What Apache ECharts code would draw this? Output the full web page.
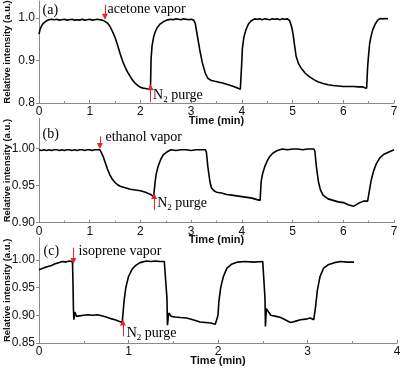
<!DOCTYPE html>
<html><head><meta charset="utf-8">
<script src="https://cdn.jsdelivr.net/npm/echarts@6/dist/echarts.min.js"></script>
<style>html,body{margin:0;padding:0;background:#fff}#c{width:400px;height:370px}</style>
</head><body><div id="c"></div>
<script>
// ---- data ----
const seriesA = [[0,0.962],[0.02,0.973],[0.05,0.981],[0.08,0.987],[0.12,0.991],[0.16,0.994],[0.2,0.996],[0.25,0.997],[0.3,0.996],[0.35,0.997],[0.4,0.995],[0.45,0.996],[0.5,0.997],[0.55,0.995],[0.6,0.996],[0.65,0.997],[0.7,0.995],[0.75,0.996],[0.8,0.995],[0.85,0.997],[0.9,0.995],[0.95,0.996],[1.0,0.997],[1.05,0.995],[1.1,0.996],[1.15,0.997],[1.2,0.996],[1.25,0.995],[1.3,0.992],[1.35,0.988],[1.4,0.980],[1.45,0.968],[1.5,0.954],[1.55,0.936],[1.6,0.916],[1.65,0.898],[1.7,0.884],[1.75,0.872],[1.8,0.862],[1.85,0.853],[1.9,0.846],[1.95,0.841],[2.0,0.837],[2.05,0.835],[2.1,0.834],[2.15,0.833],[2.19,0.832],[2.2,0.845],[2.21,0.905],[2.23,0.935],[2.26,0.955],[2.29,0.967],[2.33,0.977],[2.38,0.985],[2.45,0.991],[2.52,0.995],[2.6,0.997],[2.65,0.996],[2.7,0.998],[2.75,0.997],[2.8,0.996],[2.85,0.998],[2.9,0.997],[2.95,0.996],[3.0,0.997],[3.05,0.995],[3.08,0.988],[3.12,0.960],[3.17,0.925],[3.22,0.895],[3.28,0.870],[3.33,0.858],[3.4,0.853],[3.47,0.851],[3.55,0.849],[3.62,0.847],[3.7,0.844],[3.78,0.841],[3.85,0.838],[3.92,0.835],[3.97,0.832],[3.99,0.830],[4.0,0.900],[4.01,0.928],[4.04,0.955],[4.08,0.972],[4.13,0.986],[4.18,0.993],[4.25,0.998],[4.3,0.997],[4.35,0.998],[4.4,0.996],[4.45,0.998],[4.5,0.997],[4.55,0.996],[4.6,0.998],[4.65,0.997],[4.7,0.998],[4.75,0.996],[4.8,0.998],[4.85,0.997],[4.9,0.998],[4.94,0.994],[4.98,0.980],[5.01,0.962],[5.04,0.935],[5.07,0.910],[5.12,0.892],[5.17,0.882],[5.25,0.870],[5.33,0.862],[5.42,0.855],[5.5,0.850],[5.6,0.846],[5.7,0.843],[5.8,0.841],[5.9,0.840],[6.0,0.839],[6.1,0.839],[6.2,0.839],[6.3,0.838],[6.38,0.838],[6.42,0.836],[6.45,0.832],[6.46,0.835],[6.48,0.885],[6.5,0.915],[6.52,0.940],[6.55,0.958],[6.58,0.972],[6.63,0.986],[6.68,0.995],[6.73,0.999],[6.78,0.998],[6.83,0.999],[6.88,0.998]];

const seriesB = [[0,0.998],[0.05,0.997],[0.1,0.998],[0.15,0.997],[0.2,0.998],[0.25,0.997],[0.3,0.998],[0.35,0.998],[0.4,0.997],[0.45,0.998],[0.5,0.997],[0.55,0.998],[0.6,0.998],[0.65,0.997],[0.7,0.998],[0.75,0.997],[0.8,0.998],[0.85,0.998],[0.9,0.997],[0.95,0.998],[1.0,0.998],[1.05,0.997],[1.1,0.998],[1.15,0.998],[1.2,0.998],[1.23,0.994],[1.27,0.988],[1.31,0.980],[1.35,0.972],[1.4,0.964],[1.45,0.958],[1.5,0.954],[1.55,0.951],[1.6,0.949],[1.7,0.947],[1.8,0.945],[1.9,0.944],[2.0,0.943],[2.1,0.941],[2.2,0.938],[2.26,0.935],[2.28,0.933],[2.29,0.955],[2.31,0.965],[2.35,0.976],[2.4,0.985],[2.45,0.991],[2.52,0.995],[2.6,0.998],[2.7,0.997],[2.8,0.998],[2.9,0.998],[3.0,0.997],[3.1,0.998],[3.2,0.998],[3.28,0.998],[3.3,0.995],[3.33,0.975],[3.37,0.955],[3.4,0.947],[3.45,0.943],[3.5,0.941],[3.6,0.940],[3.7,0.938],[3.8,0.937],[3.9,0.936],[4.0,0.935],[4.1,0.934],[4.2,0.933],[4.3,0.931],[4.36,0.930],[4.38,0.955],[4.41,0.966],[4.45,0.975],[4.5,0.983],[4.55,0.989],[4.62,0.994],[4.7,0.997],[4.8,0.999],[4.9,0.998],[5.0,0.999],[5.1,0.999],[5.2,0.998],[5.3,0.999],[5.42,0.999],[5.44,0.996],[5.47,0.975],[5.51,0.955],[5.55,0.944],[5.6,0.937],[5.7,0.932],[5.8,0.930],[5.9,0.928],[6.0,0.927],[6.1,0.924],[6.2,0.922],[6.3,0.926],[6.4,0.929],[6.48,0.929],[6.51,0.930],[6.52,0.945],[6.55,0.957],[6.6,0.970],[6.65,0.979],[6.72,0.987],[6.8,0.992],[6.9,0.995],[7.0,0.998]];

const seriesC = [[0,0.982],[0.03,0.984],[0.06,0.986],[0.1,0.988],[0.14,0.990],[0.18,0.993],[0.22,0.995],[0.26,0.997],[0.3,0.996],[0.34,0.998],[0.37,0.997],[0.375,0.993],[0.38,0.955],[0.385,0.910],[0.39,0.892],[0.4,0.906],[0.42,0.898],[0.45,0.899],[0.5,0.900],[0.55,0.901],[0.6,0.900],[0.65,0.901],[0.7,0.899],[0.75,0.897],[0.8,0.894],[0.85,0.892],[0.9,0.889],[0.93,0.887],[0.94,0.890],[0.95,0.925],[0.97,0.950],[1.0,0.970],[1.04,0.983],[1.08,0.990],[1.13,0.995],[1.2,0.998],[1.25,0.997],[1.3,0.998],[1.35,0.997],[1.4,0.997],[1.42,0.996],[1.43,0.930],[1.435,0.882],[1.45,0.904],[1.48,0.898],[1.52,0.897],[1.58,0.896],[1.65,0.895],[1.72,0.892],[1.8,0.888],[1.86,0.887],[1.92,0.886],[1.97,0.884],[1.99,0.882],[2.0,0.900],[2.01,0.925],[2.03,0.950],[2.06,0.970],[2.1,0.985],[2.15,0.992],[2.22,0.996],[2.3,0.997],[2.4,0.996],[2.5,0.997],[2.52,0.996],[2.525,0.930],[2.53,0.880],[2.54,0.912],[2.56,0.910],[2.59,0.900],[2.65,0.898],[2.7,0.896],[2.75,0.892],[2.81,0.887],[2.86,0.889],[2.92,0.892],[2.98,0.893],[3.03,0.895],[3.07,0.892],[3.08,0.890],[3.09,0.915],[3.11,0.945],[3.14,0.970],[3.18,0.985],[3.23,0.991],[3.3,0.995],[3.37,0.997],[3.44,0.996],[3.52,0.996]];

const xTicksAB = [0,1,2,3,4,5,6,7];
const xTicksC = [0,1,2,3,4];
const yTicksA = [0.8,0.9,1.0];
const yTicksB = [0.90,0.95,1.00];
const yTicksC = [0.85,0.90,0.95,1.00];
const panelLabels = ['(a)','(b)','(c)'];
const vaporLabels = ['acetone vapor','ethanol vapor','isoprene vapor'];
const purgeLabel = '{n|N}{s|2}{n| purge}';
const xTitle = 'Time (min)';
const yTitle = 'Relative intensity (a.u.)';

// ---- layout ----
const SANS = 'Liberation Sans, Arial, sans-serif';
const SERIF = 'Liberation Serif, Times New Roman, serif';
const AX = '#8a8a8a';
const RED = '#e8232b';

const panels = [
  {data:seriesA, xTicks:xTicksAB, yTicks:yTicksA, dec:1, grid:{left:39,right:6,top:1,height:102},
   label:[0.06,1.017], vapor:[1.34,1.020], vArrow:[1.30,1.031,1.003], purge:[2.24,0.818], pArrow:[2.20,0.802,0.837]},
  {data:seriesB, xTicks:xTicksAB, yTicks:yTicksB, dec:2, grid:{left:39,right:6,top:118.5,height:104.2},
   label:[0.06,1.019], vapor:[1.30,1.015], vArrow:[1.20,1.016,1.003], purge:[2.32,0.926], pArrow:[2.27,0.917,0.936]},
  {data:seriesC, xTicks:xTicksC, yTicks:yTicksC, dec:2, grid:{left:39,right:3,top:237.7,height:105.3},
   label:[0.045,1.016], vapor:[0.437,1.016], vArrow:[0.384,1.022,0.998], purge:[0.974,0.868], pArrow:[0.937,0.862,0.887]}
];

const grids = [], xAxes = [], yAxes = [], series = [];
panels.forEach((p, i) => {
  grids.push(Object.assign({containLabel:false, outerBoundsMode:'none'}, p.grid));
  xAxes.push({
    gridIndex:i, type:'value', min:p.xTicks[0], max:p.xTicks[p.xTicks.length-1], interval:1,
    axisLine:{show:true, onZero:false, lineStyle:{color:AX, width:1}},
    axisTick:{show:true, inside:true, length:3, lineStyle:{color:AX}},
    minorTick:{show:true, splitNumber:2, length:2, lineStyle:{color:AX}},
    splitLine:{show:false},
    axisLabel:{color:'#111', fontSize:12, fontFamily:SANS, margin:3},
    name:xTitle, nameLocation:'middle', nameGap:12, nameMoveOverlap:false,
    nameTextStyle:{fontWeight:'bold', fontSize:11, color:'#111', fontFamily:SANS}
  });
  yAxes.push({
    gridIndex:i, type:'value', min:p.yTicks[0], max:1.04,
    axisLine:{show:true, lineStyle:{color:AX, width:1}},
    axisTick:{show:true, inside:false, length:3, customValues:p.yTicks, lineStyle:{color:AX}},
    splitLine:{show:false},
    axisLabel:{color:'#111', fontSize:12, fontFamily:SANS, margin:4, customValues:p.yTicks,
      formatter:v => Number(v).toFixed(p.dec)},
    name:yTitle, nameLocation:'middle', nameGap:27, nameMoveOverlap:false,
    nameTextStyle:{fontWeight:'bold', fontSize:9.5, color:'#111', fontFamily:SANS}
  });
  const lbl = (coord, text, rich) => ({
    coord, value:0,
    label:{show:true, position:'right', distance:0, formatter:text, color:'#000',
      fontFamily:SERIF, fontSize:14, rich:rich}
  });
  const rich = {n:{fontFamily:SERIF, fontSize:14, color:'#000'},
                s:{fontFamily:SERIF, fontSize:9, color:'#000', padding:[9,0,0,0]}};
  series.push({
    type:'line', xAxisIndex:i, yAxisIndex:i, data:p.data, showSymbol:false, symbol:'none',
    lineStyle:{color:'#000', width:1.6}, animation:false, silent:true,
    markLine:{
      silent:true, animation:false, symbol:['none','triangle'], symbolSize:6,
      label:{show:false}, lineStyle:{color:RED, width:1, type:'solid'},
      itemStyle:{color:RED},
      data:[
        [{coord:[p.vArrow[0],p.vArrow[1]]},{coord:[p.vArrow[0],p.vArrow[2]]}],
        [{coord:[p.pArrow[0],p.pArrow[1]]},{coord:[p.pArrow[0],p.pArrow[2]]}]
      ]
    },
    markPoint:{
      silent:true, animation:false, symbol:'circle', symbolSize:1,
      itemStyle:{color:'rgba(0,0,0,0)'},
      data:[
        lbl(p.label, panelLabels[i]),
        lbl(p.vapor, vaporLabels[i]),
        lbl(p.purge, purgeLabel, rich)
      ]
    }
  });
});

const chart = echarts.init(document.getElementById('c'), null, {renderer:'canvas'});
chart.setOption({
  backgroundColor:'#fff', animation:false,
  grid:grids, xAxis:xAxes, yAxis:yAxes, series:series
});
</script></body></html>
